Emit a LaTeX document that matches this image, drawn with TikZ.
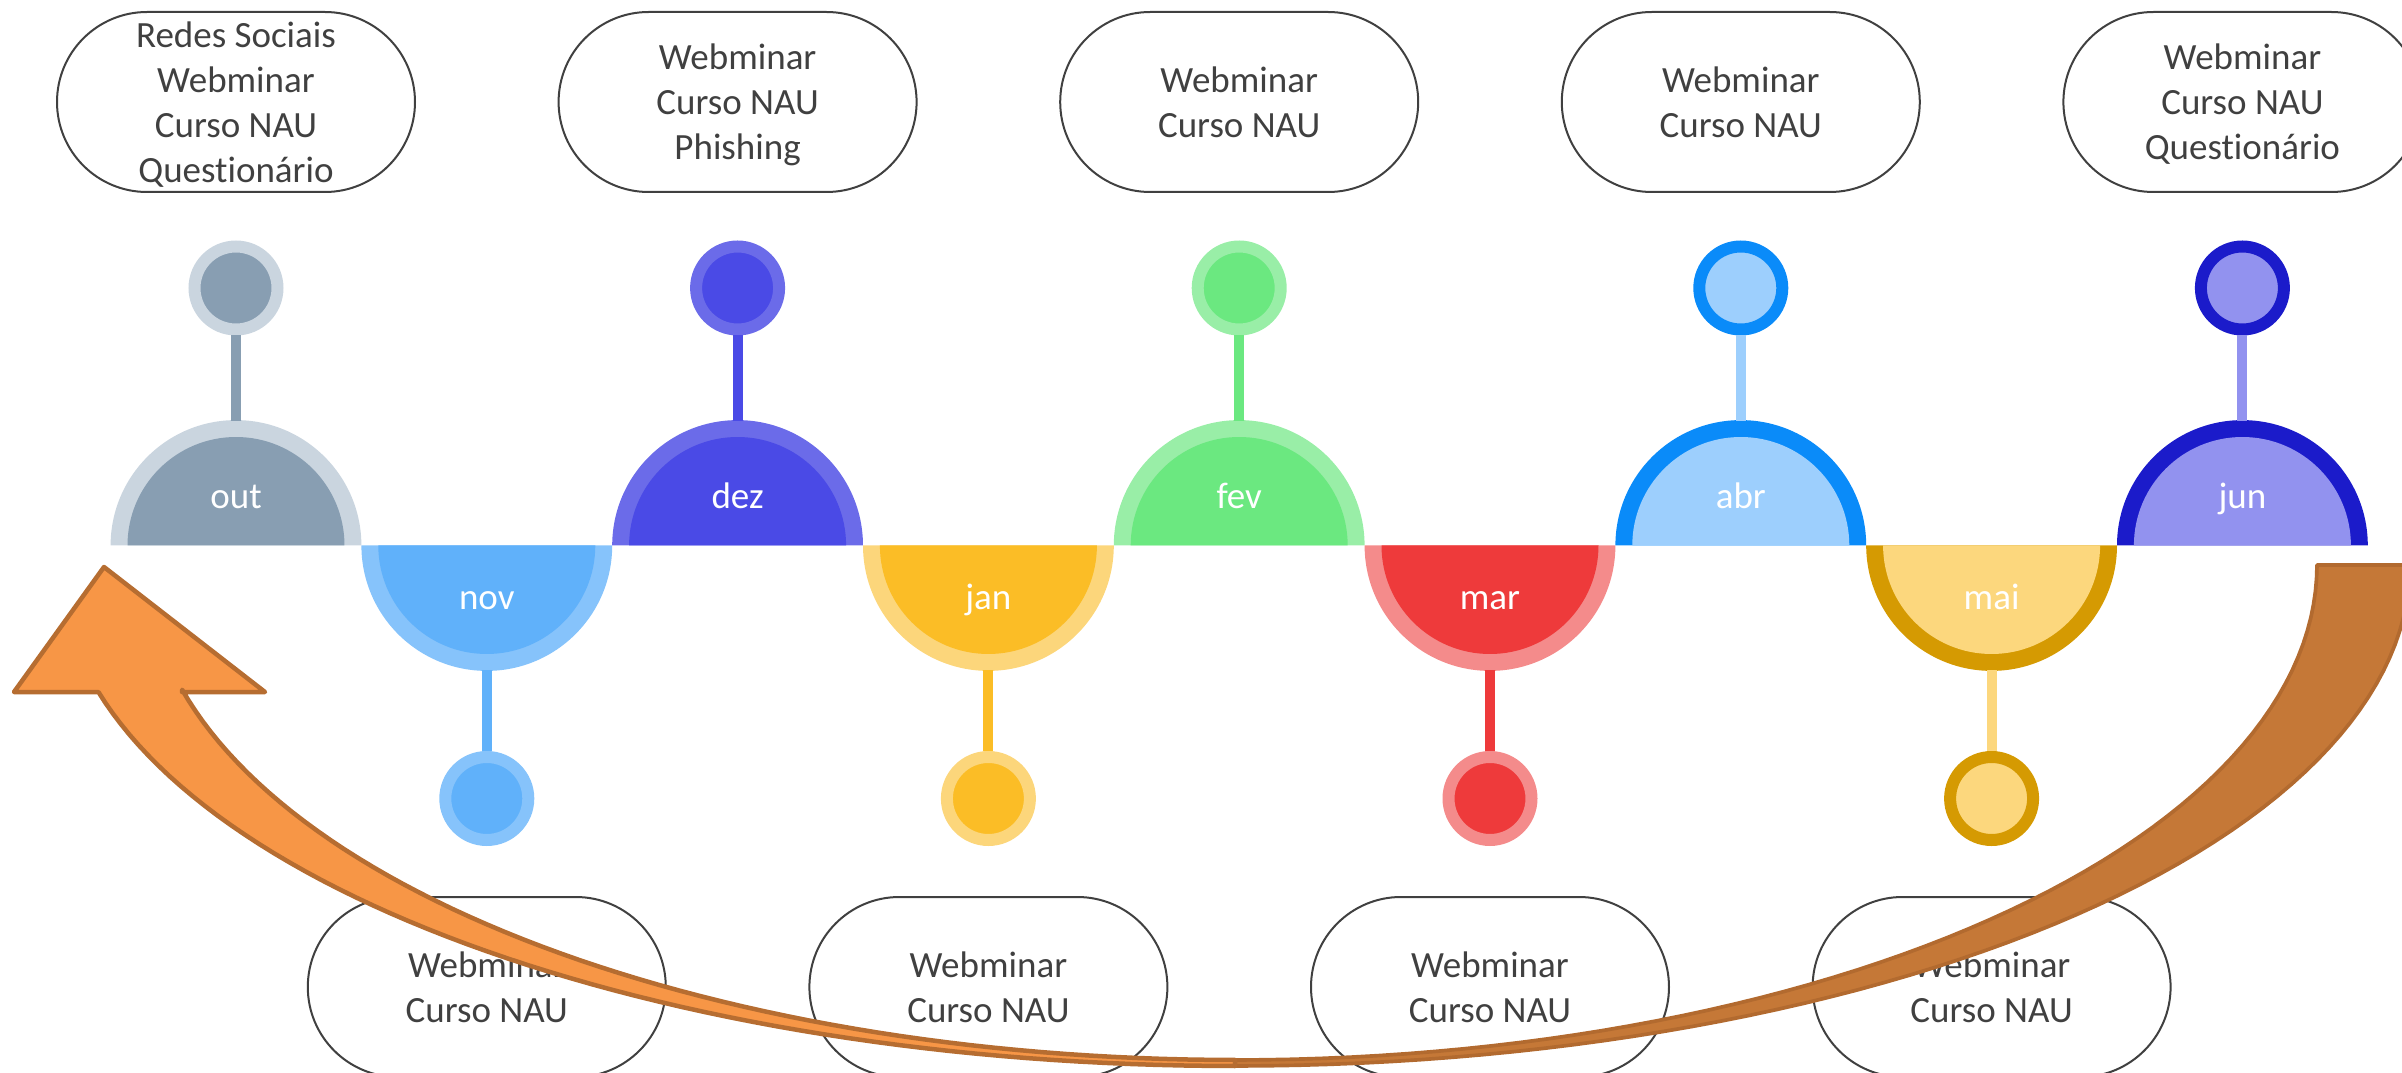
\documentclass[tikz,border=0pt]{standalone}
\usepackage{fontspec}
\setmainfont{Carlito}[Ligatures={NoCommon}]
\definecolor{txt}{HTML}{404040}
\definecolor{outR}{HTML}{CAD5DF}\definecolor{outF}{HTML}{889EB2}
\definecolor{novR}{HTML}{86C3FB}\definecolor{novF}{HTML}{60B1FA}
\definecolor{dezR}{HTML}{6B6BE9}\definecolor{dezF}{HTML}{4A4AE6}
\definecolor{janR}{HTML}{FCD67B}\definecolor{janF}{HTML}{FBBD26}
\definecolor{fevR}{HTML}{99EEA7}\definecolor{fevF}{HTML}{6BE880}
\definecolor{marR}{HTML}{F48B8B}\definecolor{marF}{HTML}{EE3A3B}
\definecolor{abrR}{HTML}{0A8BF9}\definecolor{abrF}{HTML}{9DCFFD}
\definecolor{maiR}{HTML}{D59A02}\definecolor{maiF}{HTML}{FCD77D}
\definecolor{junR}{HTML}{1B1BCA}\definecolor{junF}{HTML}{9292EF}
\definecolor{orFill}{HTML}{F79646}\definecolor{orLine}{HTML}{B66D31}
\definecolor{brFill}{HTML}{C57837}\definecolor{brLine}{HTML}{B26A2F}
\begin{document}
\begin{tikzpicture}[x=0.3pt,y=-0.3pt,
  box/.style={draw=txt, line width=0.6pt, rounded corners=27pt,
    minimum width=107.4pt, minimum height=54pt, align=center, text=txt,
    font=\fontsize{11.1}{13.5}\selectfont, inner sep=0pt, text depth=0pt},
  month/.style={text=white, anchor=base, inner sep=0pt,
    font=\fontsize{11.1}{13.5}\selectfont},
  dot/.style={circle, minimum size=24.9pt, inner sep=0pt, line width=3.6pt},
  stem/.style={line width=3pt},
  orarrow/.style={fill=orFill, draw=orLine, line width=1.35pt, line join=round},
  brarrow/.style={fill=brFill, draw=brLine, line width=1.1pt, line join=round}]
\useasboundingbox (0,0) rectangle (2402,1073);
\clip (0,0) rectangle (2402,1073);
% timeline
\foreach \i/\m/\ring/\fil/\up in {0/out/outR/outF/1,1/nov/novR/novF/0,2/dez/dezR/dezF/1,
  3/jan/janR/janF/0,4/fev/fevR/fevF/1,5/mar/marR/marF/0,6/abr/abrR/abrF/1,
  7/mai/maiR/maiF/0,8/jun/junR/junF/1}{
  \pgfmathsetmacro{\c}{236+250.8*\i}
  \ifnum\up=1
    \fill[\ring] (\c-125.4,545.5) arc[start angle=180,end angle=0,radius=37.62pt] -- cycle;
    \fill[\fil] (\c-108.5,545.5) arc[start angle=180,end angle=0,radius=32.55pt] -- cycle;
    \node[dot, fill=\fil, draw=\ring] (d\i) at (\c,288) {};
    \coordinate (s\i) at (\c,420.6);
    \draw[stem,\fil] (d\i.south) -- (s\i);
    \node[month] (m\i) at (\c,509) {\m};
  \else
    \fill[\ring] (\c-125.4,545.5) arc[start angle=180,end angle=360,radius=37.62pt] -- cycle;
    \fill[\fil] (\c-108.5,545.5) arc[start angle=180,end angle=360,radius=32.55pt] -- cycle;
    \node[dot, fill=\fil, draw=\ring] (d\i) at (\c,798.5) {};
    \coordinate (s\i) at (\c,670.4);
    \draw[stem,\fil] (s\i) -- (d\i.north);
    \node[month] (m\i) at (\c,609) {\m};
  \fi
}
% boxes
\node[box] (b0) at (236,102) {Redes Sociais\\Webminar\\Curso NAU\\Questionário};
\node[box] (b2) at (737.6,102) {Webminar\\Curso NAU\\Phishing};
\node[box] (b4) at (1239.2,102) {Webminar\\Curso NAU};
\node[box] (b6) at (1740.8,102) {Webminar\\Curso NAU};
\node[box] (b8) at (2242.4,102) {Webminar\\Curso NAU\\Questionário};
\node[box] (b1) at (486.8,987) {Webminar\\Curso NAU};
\node[box] (b3) at (988.4,987) {Webminar\\Curso NAU};
\node[box] (b5) at (1490,987) {Webminar\\Curso NAU};
\node[box] (b7) at (1991.6,987) {Webminar\\Curso NAU};
% curved arrow: back part
\draw[brarrow] (2317,565)
  -- plot[domain=0:90,samples=60] ({1235+1082*cos(\x)},{565+495*sin(\x)})
  -- plot[domain=90:0,samples=60] ({1235+1175*cos(\x)},{565+501*sin(\x)})
  -- cycle;
% curved arrow: front part with head
\draw[orarrow] (104,567) -- (265,692) -- (182,692)
  -- plot[domain=165.4:90,samples=60] ({1235+1088*cos(\x)},{565+495*sin(\x)})
  -- plot[domain=90:165.3,samples=60] ({1235+1175*cos(\x)},{565+501*sin(\x)})
  -- (14,692) -- cycle;
\end{tikzpicture}
\end{document}
